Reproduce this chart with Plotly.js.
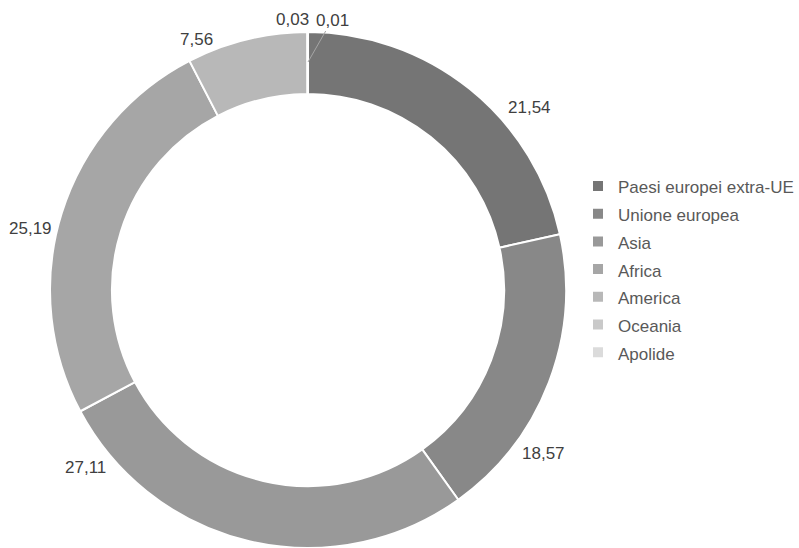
<!DOCTYPE html>
<html>
<head>
<meta charset="utf-8">
<script src="https://cdn.plot.ly/plotly-3.0.1.min.js"></script>
<style>html,body{margin:0;padding:0;background:#fff;}#chart{width:799px;height:548px;}</style>
</head>
<body>
<div id="chart"></div>
<script>
const categories = ["Paesi europei extra-UE", "Unione europea", "Asia", "Africa", "America", "Oceania", "Apolide"];
const values = [21.54, 18.57, 27.11, 25.19, 7.56, 0.03, 0.01];
const colors = ["#757575", "#888888", "#999999", "#a6a6a6", "#b8b8b8", "#c9c9c9", "#dbdbdb"];
// label placement (pixels, from the top-left corner of the figure), as in the original chart
const labelPos = [[529, 107], [543, 453], [85, 467], [30, 228], [196, 39], [292, 20], [332, 20]];

const W = 799, H = 548;
const fmt = v => v.toFixed(2).replace(".", ",");

const trace = {
  type: "pie",
  labels: categories.map(c => '<span style="font-size:17px">' + c + '</span>'),
  values: values,
  sort: false,
  direction: "clockwise",
  rotation: 0,
  hole: 0.76,
  marker: {colors: colors, line: {color: "#ffffff", width: 2}},
  textinfo: "none",
  textposition: "none",
  domain: {x: [0.0626, 0.7084], y: [0, 0.9416]},
  hoverinfo: "label+value"
};

const annotations = values.map((v, i) => ({
  text: fmt(v),
  xref: "paper", yref: "paper",
  font: {family: "Liberation Sans, Arial, sans-serif", size: 17, color: "#404040"},
  showarrow: false,
  xanchor: "center", yanchor: "middle",
  x: labelPos[i][0] / W, y: 1 - labelPos[i][1] / H
}));
// leader line for the smallest slice
const last = annotations[annotations.length - 1];
last.showarrow = true;
last.arrowhead = 0;
last.arrowwidth = 1;
last.arrowcolor = "#a6a6a6";
last.standoff = 0;
last.x = 308 / W; last.y = 1 - 62 / H;
last.ax = labelPos[6][0] - 308; last.ay = labelPos[6][1] - 62;
last.xanchor = "auto"; last.yanchor = "auto";

const layout = {
  width: W,
  height: H,
  margin: {l: 0, r: 0, t: 0, b: 0, autoexpand: false},
  paper_bgcolor: "#ffffff",
  separators: ",.",
  showlegend: true,
  legend: {
    xref: "container", yref: "container",
    x: 0.7234, y: 0.695, xanchor: "left", yanchor: "top",
    font: {family: "Liberation Sans, Arial, sans-serif", size: 19, color: "#595959"},
    itemwidth: 30
  },
  annotations: annotations,
  font: {family: "Liberation Sans, Arial, sans-serif"}
};

Plotly.newPlot("chart", [trace], layout, {displayModeBar: false, staticPlot: true});
</script>
</body>
</html>
